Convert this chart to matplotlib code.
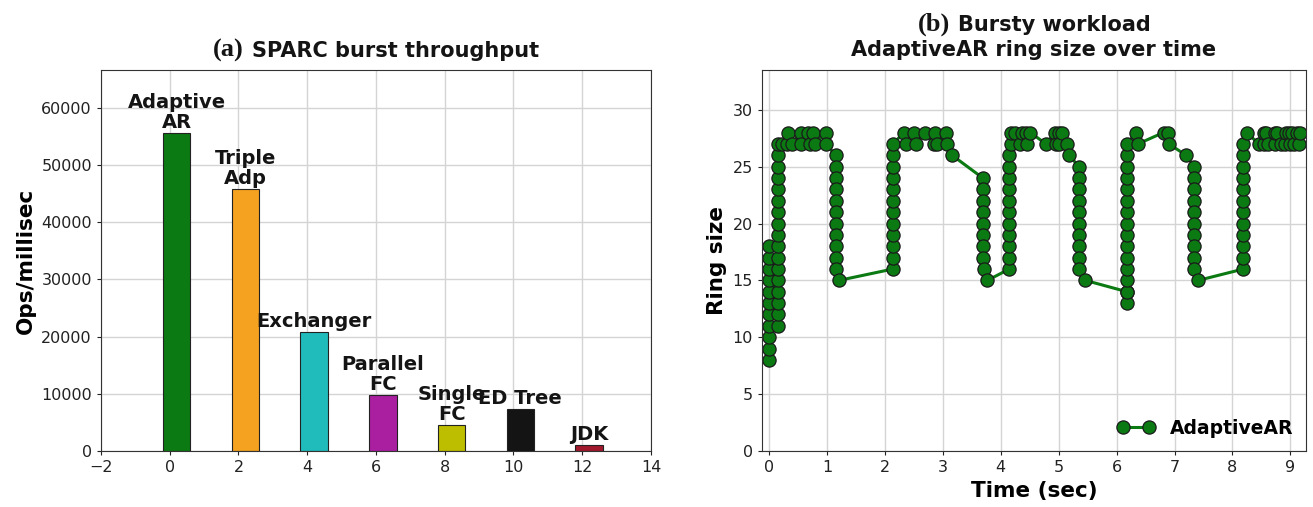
import numpy as np
import matplotlib
matplotlib.use("Agg")
import matplotlib.pyplot as plt
from matplotlib.offsetbox import TextArea, HPacker, VPacker, AnchoredOffsetbox

plt.rcParams['font.family'] = ['DejaVu Sans']

# (a) throughput per algorithm
algos = ["Adaptive\nAR", "Triple\nAdp", "Exchanger", "Parallel\nFC", "Single\nFC", "ED Tree", "JDK"]
ops = [55500, 45800, 20800, 9800, 4550, 7350, 1050]
bar_colors = ["#0b7a13", "#f4a220", "#20bcbc", "#aa1ea0", "#bebe00", "#141414", "#a0192d"]

# (b) ring size samples over time
time_s = [0.0, 0.0, 0.0, 0.0, 0.0, 0.0, 0.0, 0.0, 0.0, 0.0, 0.0,
          0.15, 0.15, 0.15, 0.15, 0.15, 0.15, 0.15, 0.15, 0.15, 0.15, 0.15, 0.15, 0.15, 0.15, 0.15, 0.15,
          0.15, 0.23, 0.31, 0.32, 0.39, 0.55, 0.56, 0.67, 0.71, 0.76, 0.79, 0.98, 0.98,
          1.15, 1.15, 1.15, 1.15, 1.15, 1.15, 1.15, 1.15, 1.15, 1.15, 1.15, 1.21,
          2.14, 2.14, 2.14, 2.14, 2.14, 2.14, 2.14, 2.14, 2.14, 2.14, 2.14, 2.14,
          2.33, 2.36, 2.50, 2.54, 2.69, 2.85, 2.87, 2.90, 3.06, 3.08, 3.16,
          3.69, 3.69, 3.69, 3.69, 3.69, 3.69, 3.69, 3.69, 3.71, 3.77,
          4.15, 4.15, 4.15, 4.15, 4.15, 4.15, 4.15, 4.15, 4.15, 4.15, 4.15,
          4.17, 4.17, 4.25, 4.33, 4.36, 4.44, 4.46, 4.51, 4.78, 4.94, 4.96, 5.00, 5.00, 5.06, 5.14, 5.18,
          5.35, 5.35, 5.35, 5.35, 5.35, 5.35, 5.35, 5.35, 5.35, 5.35, 5.46,
          6.18, 6.18, 6.18, 6.18, 6.18, 6.18, 6.18, 6.18, 6.18, 6.18, 6.18, 6.18, 6.18, 6.18, 6.18, 6.18,
          6.34, 6.37, 6.81, 6.88, 6.90, 7.20,
          7.34, 7.34, 7.34, 7.34, 7.34, 7.34, 7.34, 7.34, 7.34, 7.34, 7.41,
          8.19, 8.19, 8.19, 8.19, 8.19, 8.19, 8.19, 8.19, 8.19, 8.19, 8.19, 8.19, 8.25,
          8.45, 8.54, 8.54, 8.58, 8.61, 8.74, 8.74, 8.77, 8.83, 8.91, 8.93, 8.97, 9.00, 9.03, 9.06, 9.11, 9.14, 9.16]
ring_size = [8, 9, 10, 11, 12, 13, 14, 15, 16, 17, 18,
             11, 12, 13, 14, 15, 16, 17, 18, 19, 20, 21, 22, 23, 24, 25, 26,
             27, 27, 27, 28, 27, 28, 27, 28, 27, 28, 27, 28, 27,
             26, 25, 24, 23, 22, 21, 20, 19, 18, 17, 16, 15,
             16, 17, 18, 19, 20, 21, 22, 23, 24, 25, 26, 27,
             28, 27, 28, 27, 28, 27, 28, 27, 28, 27, 26,
             24, 23, 22, 21, 20, 19, 18, 17, 16, 15,
             16, 17, 18, 19, 20, 21, 22, 23, 24, 25, 26,
             27, 28, 28, 27, 28, 28, 27, 28, 27, 28, 27, 28, 27, 28, 27, 26,
             25, 24, 23, 22, 21, 20, 19, 18, 17, 16, 15,
             14, 13, 14, 15, 16, 17, 18, 19, 20, 21, 22, 23, 24, 25, 26, 27,
             28, 27, 28, 28, 27, 26,
             25, 24, 23, 22, 21, 20, 19, 18, 17, 16, 15,
             16, 17, 18, 19, 20, 21, 22, 23, 24, 25, 26, 27, 28,
             27, 27, 28, 28, 27, 27, 28, 28, 27, 27, 28, 28, 27, 28, 27, 28, 27, 28]

fig = plt.figure(figsize=(13.13, 5.07), dpi=100)
ax1 = fig.add_axes([0.0769, 0.1105, 0.4189, 0.7515])
ax2 = fig.add_axes([0.5804, 0.1105, 0.4143, 0.7515])

grid_kw = dict(color="#d4d4d4", linewidth=1.0)
for ax in (ax1, ax2):
    ax.set_axisbelow(True)
    ax.grid(True, **grid_kw)
    for s in ax.spines.values():
        s.set_color("#333333")
    ax.tick_params(labelsize=11.5, colors="#222222", length=3)

serif_kw = dict(family="Liberation Serif", weight="bold", size=19, color="#141414")
sans_kw = dict(family="DejaVu Sans", weight="bold", size=15, color="#141414")


def panel_title(ax, tag, first, second=None, pad=0.65):
    line1 = HPacker(children=[TextArea(tag, textprops=serif_kw),
                              TextArea(first, textprops=sans_kw)],
                    align="baseline", pad=0, sep=6)
    if second is None:
        box = line1
    else:
        box = VPacker(children=[line1, TextArea(second, textprops=sans_kw)],
                      align="center", pad=0, sep=3)
    anchored = AnchoredOffsetbox(loc="lower center", child=box, pad=0, borderpad=pad,
                                 frameon=False, bbox_to_anchor=(0.5, 1.0),
                                 bbox_transform=ax.transAxes)
    ax.add_artist(anchored)


# --- left: bars
xpos = np.arange(len(algos)) * 2 + 0.2
ax1.bar(xpos, ops, width=0.8, color=bar_colors, edgecolor="#222222", linewidth=0.8)
for x, v, name in zip(xpos, ops, algos):
    ax1.annotate(name, (x, v), xytext=(0, 1), textcoords="offset points",
                 ha="center", va="bottom", fontsize=14, fontweight="bold",
                 color="#141414", linespacing=1.05)
ax1.set_xlim(-2, 14)
ax1.set_ylim(0, 66600)
ax1.set_xticks(np.arange(-2, 15, 2))
ax1.set_ylabel("Ops/millisec", fontsize=15.5, fontweight="bold")
panel_title(ax1, "(a)", "SPARC burst throughput", pad=0.55)

# --- right: ring size
ax2.plot(time_s, ring_size, color="#0b7a13", linewidth=2.2, marker="o", markersize=9.5,
         markerfacecolor="#0b7a13", markeredgecolor="#1a1a1a", markeredgewidth=0.9,
         label="AdaptiveAR")
ax2.set_xlim(-0.12, 9.27)
ax2.set_ylim(0, 33.5)
ax2.set_xticks(np.arange(0, 10, 1))
ax2.set_yticks(np.arange(0, 31, 5))
ax2.set_xlabel("Time (sec)", fontsize=15.5, fontweight="bold")
ax2.set_ylabel("Ring size", fontsize=15.5, fontweight="bold")
panel_title(ax2, "(b)", "Bursty workload", "AdaptiveAR ring size over time", pad=0.7)
leg = ax2.legend(loc="lower right", frameon=False, prop=dict(size=13.5, weight="bold"),
                 numpoints=2, handlelength=2.0, borderaxespad=0.3)

fig.savefig("out.png", dpi=100)
